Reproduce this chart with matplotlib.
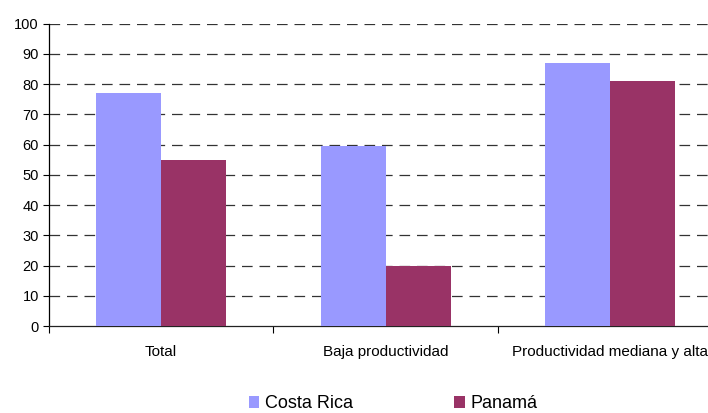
import matplotlib
matplotlib.use("Agg")
import matplotlib.pyplot as plt
import numpy as np
from matplotlib.patches import Patch

categories = ["Total", "Baja productividad", "Productividad mediana y alta"]
costa_rica = [77, 59.5, 87]
panama = [55, 20, 81]
series_names = ["Costa Rica", "Panamá"]
y_ticks = [0, 10, 20, 30, 40, 50, 60, 70, 80, 90, 100]

c_cr = "#9999FF"
c_pa = "#993366"

plt.rcParams["font.family"] = ["Liberation Sans", "DejaVu Sans"]

fig = plt.figure(figsize=(7.08, 4.13), dpi=100)
W, H = 708, 413
left, right = 48.7, 722.5
bottom, top = 413 - 326, 413 - 23.7
ax = fig.add_axes([left / W, bottom / H, (right - left) / W, (top - bottom) / H])

x = np.arange(len(categories))
bw = 0.289
ax.bar(x - bw / 2, costa_rica, width=bw, color=c_cr, zorder=3)
ax.bar(x + bw / 2, panama, width=bw, color=c_pa, zorder=3)

ax.set_xlim(-0.5, len(categories) - 0.5)
ax.set_ylim(0, 100)
ax.set_yticks(y_ticks)
ax.tick_params(axis="y", labelsize=10.5, length=4, width=0.8, pad=3, direction="out")

# category boundaries carry the tick marks, labels sit in the middle
ax.set_xticks(np.arange(len(categories) + 1) - 0.5)
ax.set_xticklabels([])
ax.set_xticks(x, minor=True)
ax.set_xticklabels(categories, minor=True, fontsize=11)
ax.tick_params(axis="x", which="major", length=5, width=0.8, direction="out")
ax.tick_params(axis="x", which="minor", length=0, pad=14)

for v in y_ticks[1:]:
    ax.axhline(v, color="#333333", lw=0.9, linestyle=(0, (8.5, 5.5)), zorder=1)

for s in ["top", "right"]:
    ax.spines[s].set_visible(False)
ax.spines["left"].set_linewidth(0.9)
ax.spines["bottom"].set_linewidth(0.9)
ax.spines["bottom"].set_color("#222222")

handles = [Patch(facecolor=c_cr, edgecolor="none"), Patch(facecolor=c_pa, edgecolor="none")]
fig.legend(handles, series_names, loc="center", bbox_to_anchor=(0.555, 1 - 404 / H),
           ncol=2, frameon=False, fontsize=13, handlelength=0.6, handleheight=0.6,
           handletextpad=0.3, columnspacing=5.6)

fig.savefig("out.png", dpi=100)
